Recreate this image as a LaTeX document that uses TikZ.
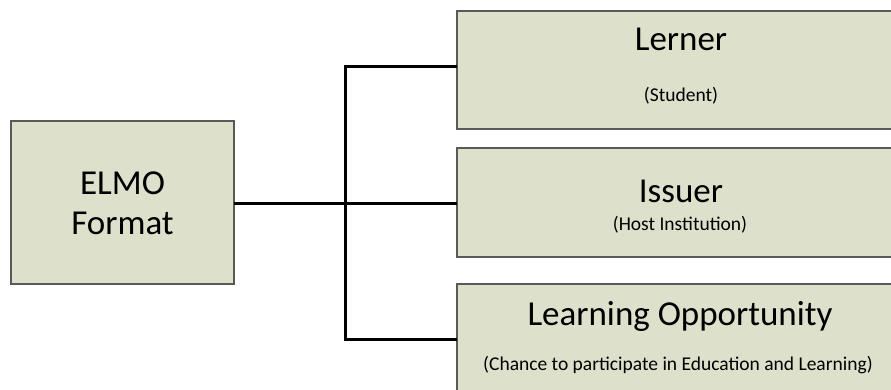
\documentclass[tikz,border=0pt]{standalone}
\usepackage{fontspec}
\setmainfont{Carlito}
\begin{document}
\begin{tikzpicture}[x=1pt,y=-1pt,
  box/.style={draw=black!65,line width=1.2pt,fill=boxfill},
  bigtext/.style={font=\fontsize{35}{40}\selectfont,align=center,inner sep=0pt},
  smalltext/.style={font=\fontsize{19.5}{22}\selectfont,inner sep=0pt},
  link/.style={line width=3pt,black}]
\definecolor{boxfill}{HTML}{DDE0CA}
\useasboundingbox (0,0) rectangle (891,389);
% boxes (right boxes run off the right edge)
\path[box] (11,121) rectangle (234,284);
\path[box] (457,11) rectangle (900,129);
\path[box] (457,148) rectangle (900,257);
\path[box] (457,284) rectangle (900,400);
\coordinate (elmo) at (234,203);
\coordinate (lerner) at (457,66);
\coordinate (issuer) at (457,203);
\coordinate (lo) at (457,339);
\coordinate (bus) at (345,203);
% labels
\node[bigtext] (t0) at (122.5,203) {ELMO\\Format};
\node[bigtext,anchor=base] (t1) at (681,50) {Lerner};
\node[smalltext,anchor=base] (s1) at (681,101) {(Student)};
\node[bigtext,anchor=base] (t2) at (681,202) {Issuer};
\node[smalltext,anchor=base] (s2) at (680,230) {(Host Institution)};
\node[bigtext,anchor=base] (t3) at (680,325) {Learning Opportunity};
\node[smalltext,anchor=base] (s3) at (678,370) {(Chance to participate in Education and Learning)};
% connectors
\draw[link] (elmo) -- (issuer);
\draw[link] (lerner) -| (bus |- lo) -- (lo);
\end{tikzpicture}
\end{document}
